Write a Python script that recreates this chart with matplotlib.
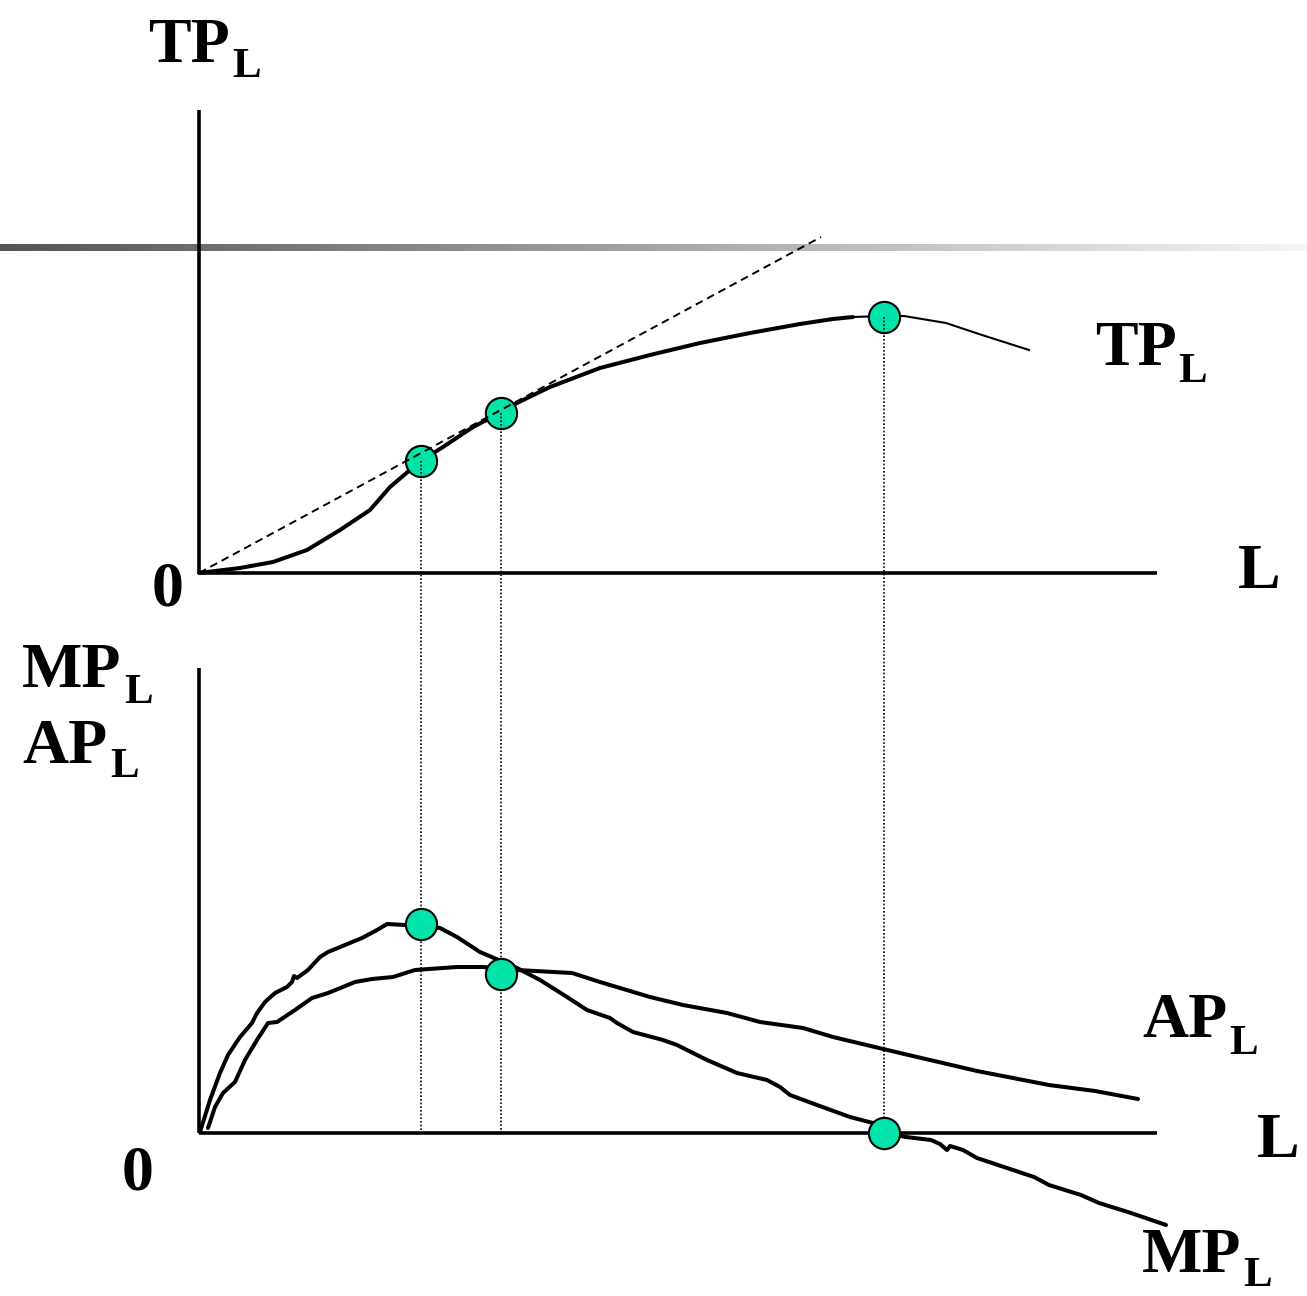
import numpy as np
import matplotlib
matplotlib.use("Agg")
import matplotlib.pyplot as plt

# --- data (chart units: L to the right of the origin, output above the L axis) ---
tp_L = [0, 41, 74, 108, 141, 171, 191, 211, 222, 244, 274, 303, 318, 351, 401, 451, 501, 551, 601, 634, 654]
tp_Q = [0, 5, 11, 23, 43, 63, 86, 103, 112, 126, 146, 161, 170, 186, 205, 218, 230, 240, 249, 254, 256]
tp_tail_L = [654, 685, 705, 747, 783, 830]
tp_tail_Q = [256, 257, 257, 250, 238, 223]

ray_L = [0, 622]
ray_Q = [0, 336]

mp_L = [1, 11, 21, 29, 41, 53, 58, 66, 76, 88, 93, 95, 98, 109, 121, 129, 146, 163, 178, 188, 206,
        222, 241, 258, 281, 302, 318, 341, 368, 388, 411, 418, 434, 464, 478, 508, 538, 568, 581,
        591, 618, 651, 674, 685, 707, 732, 741, 748, 751, 764, 778, 814, 835, 850, 882, 900, 932, 967]
mp_Q = [1, 33, 60, 78, 96, 110, 120, 131, 140, 146, 151, 157, 155, 163, 176, 181, 188, 195, 203, 209, 208,
        208, 205, 196, 181, 172, 165, 153, 136, 123, 115, 110, 101, 93, 88, 73, 60, 53, 46,
        38, 28, 16, 10, 0, -4, -7, -11, -17, -13, -17, -25, -37, -44, -52, -62, -70, -80, -92]

ap_L = [9, 16, 24, 36, 46, 58, 69, 78, 96, 113, 129, 139, 156, 173, 194, 216, 258, 284, 318, 373,
        401, 451, 484, 528, 561, 604, 634, 701, 778, 850, 896, 939]
ap_Q = [5, 26, 40, 51, 73, 93, 110, 111, 123, 135, 140, 144, 151, 154, 156, 163, 166, 166, 163, 160,
        151, 136, 128, 120, 111, 105, 96, 80, 62, 48, 42, 34]

top_pts_L = [222, 302, 685]
top_pts_Q = [112, 160, 256]
bot_pts_L = [222, 302, 685]
bot_pts_Q = [209, 159, 0]

L_max = 958
top_Q_max = 463
bot_Q_max = 465

# labels: (main, subscript, left x px, baseline px, sub x px, sub baseline px)
labels = [
    ("TP", "L", 148, 62, 232, 77),
    ("TP", "L", 1095, 365, 1178, 382),
    ("MP", "L", 22, 687, 124, 703),
    ("AP", "L", 22, 763, 110, 777),
    ("AP", "L", 1142, 1037, 1229, 1054),
    ("MP", "L", 1142, 1272, 1243, 1286),
    ("0", "", 152, 605, 0, 0),
    ("0", "", 122, 1190, 0, 0),
    ("L", "", 1238, 588, 0, 0),
    ("L", "", 1257, 1157, 0, 0),
]

# --- layout in pixels ---
W, H = 1307, 1296
x0 = 199
top_y0 = 573
bot_y0 = 1133


def top(L, Q):
    return x0 + np.asarray(L, float), top_y0 - np.asarray(Q, float)


def bot(L, Q):
    return x0 + np.asarray(L, float), bot_y0 - np.asarray(Q, float)


fig = plt.figure(figsize=(W / 100, H / 100), dpi=100)
ax = fig.add_axes([0, 0, 1, 1])
ax.axis("off")

# grey gradient bar
grad = np.linspace(0.33, 0.96, 512).reshape(1, -1)
ax.imshow(grad, cmap="gray", vmin=0, vmax=1, extent=(0, W, 251, 244), aspect="auto",
          interpolation="bilinear", zorder=1)

ink = "black"
axkw = dict(color=ink, lw=2.6, zorder=2, solid_capstyle="butt")
ax.plot(*top([0, 0], [0, top_Q_max]), **axkw)
ax.plot(*top([0, L_max], [0, 0]), **axkw)
ax.plot(*bot([0, 0], [0, bot_Q_max]), **axkw)
ax.plot(*bot([0, L_max], [0, 0]), **axkw)

curvekw = dict(color=ink, lw=2.9, zorder=2, solid_joinstyle="round", solid_capstyle="round")
ax.plot(*top(tp_L, tp_Q), **curvekw)
ax.plot(*top(tp_tail_L, tp_tail_Q), color=ink, lw=1.5, zorder=2, solid_joinstyle="round")

ax.plot(*bot(mp_L, mp_Q), **curvekw)
ax.plot(*bot(ap_L, ap_Q), **curvekw)

# tangent ray
ax.plot(*top(ray_L, ray_Q), color=ink, lw=1.4, ls=(0, (4, 2.6)), zorder=4)

green = "#00E3A9"
tx, ty = top(top_pts_L, top_pts_Q)
bx, by = bot(bot_pts_L, bot_pts_Q)
ax.plot(tx, ty, "o", ms=22.5, mfc=green, mec=ink, mew=1.5, zorder=3)

# dotted drop lines
for xi, yi in zip(tx, ty):
    ax.plot([xi, xi], [yi, bot_y0], color=ink, lw=1.2, ls=(0, (1, 1.2)), zorder=4)

ax.plot(bx, by, "o", ms=22.5, mfc=green, mec=ink, mew=1.5, zorder=5)

font = "Liberation Serif"
for main, sub, mx, my, sx, sy in labels:
    ax.text(mx, my, main, fontsize=46, fontweight="bold", family=font,
            ha="left", va="baseline", zorder=6)
    if sub:
        ax.text(sx, sy, sub, fontsize=31, fontweight="bold", family=font,
                ha="left", va="baseline", zorder=6)

ax.set_xlim(0, W)
ax.set_ylim(H, 0)
fig.savefig("out.png", dpi=100, facecolor="white")
